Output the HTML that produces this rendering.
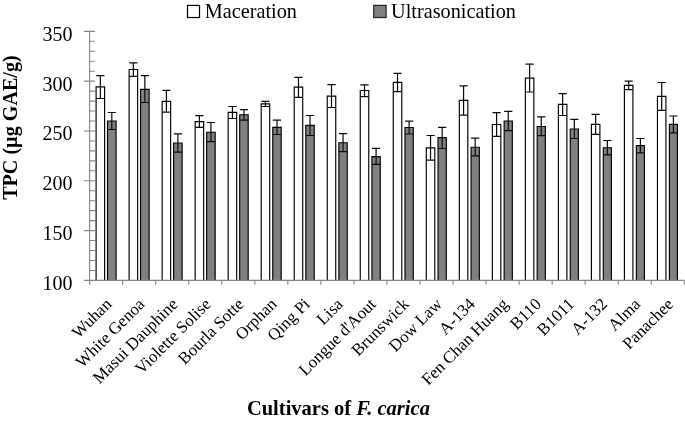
<!DOCTYPE html><html><head><meta charset="utf-8"><style>html,body{margin:0;padding:0;background:#fff}svg{display:block;filter:grayscale(1)}text{font-family:"Liberation Serif",serif;fill:#000}</style></head><body>
<svg width="685" height="421" viewBox="0 0 685 421">
<rect width="685" height="421" fill="#fff"/>
<path d="M96.10 280.4V86.90H104.60V280.4" fill="#fff" stroke="#000" stroke-width="1.15"/>
<path d="M100.35 75.70V98.50M96.25 75.70H104.45M96.25 98.50H104.45" stroke="#0a0a0a" stroke-width="1.2" fill="none"/>
<path d="M107.50 280.4V121.00H116.10V280.4" fill="#808080" stroke="#000" stroke-width="1.15"/>
<path d="M111.80 112.50V129.50M107.70 112.50H115.90M107.70 129.50H115.90" stroke="#0a0a0a" stroke-width="1.2" fill="none"/>
<path d="M129.12 280.4V69.50H137.62V280.4" fill="#fff" stroke="#000" stroke-width="1.15"/>
<path d="M133.37 62.80V76.30M129.27 62.80H137.47M129.27 76.30H137.47" stroke="#0a0a0a" stroke-width="1.2" fill="none"/>
<path d="M140.55 280.4V89.30H149.12V280.4" fill="#808080" stroke="#000" stroke-width="1.15"/>
<path d="M144.84 75.70V102.50M140.74 75.70H148.94M140.74 102.50H148.94" stroke="#0a0a0a" stroke-width="1.2" fill="none"/>
<path d="M162.14 280.4V101.40H170.64V280.4" fill="#fff" stroke="#000" stroke-width="1.15"/>
<path d="M166.39 90.40V112.20M162.29 90.40H170.49M162.29 112.20H170.49" stroke="#0a0a0a" stroke-width="1.2" fill="none"/>
<path d="M173.61 280.4V143.00H182.14V280.4" fill="#808080" stroke="#000" stroke-width="1.15"/>
<path d="M177.87 133.80V152.20M173.77 133.80H181.97M173.77 152.20H181.97" stroke="#0a0a0a" stroke-width="1.2" fill="none"/>
<path d="M195.16 280.4V121.60H203.66V280.4" fill="#fff" stroke="#000" stroke-width="1.15"/>
<path d="M199.41 115.70V127.30M195.31 115.70H203.51M195.31 127.30H203.51" stroke="#0a0a0a" stroke-width="1.2" fill="none"/>
<path d="M206.66 280.4V132.20H215.16V280.4" fill="#808080" stroke="#000" stroke-width="1.15"/>
<path d="M210.91 122.50V141.60M206.81 122.50H215.01M206.81 141.60H215.01" stroke="#0a0a0a" stroke-width="1.2" fill="none"/>
<path d="M228.18 280.4V112.40H236.68V280.4" fill="#fff" stroke="#000" stroke-width="1.15"/>
<path d="M232.43 106.50V118.50M228.33 106.50H236.53M228.33 118.50H236.53" stroke="#0a0a0a" stroke-width="1.2" fill="none"/>
<path d="M239.71 280.4V114.70H248.18V280.4" fill="#808080" stroke="#000" stroke-width="1.15"/>
<path d="M243.95 109.60V120.20M239.85 109.60H248.05M239.85 120.20H248.05" stroke="#0a0a0a" stroke-width="1.2" fill="none"/>
<path d="M261.20 280.4V103.80H269.70V280.4" fill="#fff" stroke="#000" stroke-width="1.15"/>
<path d="M265.45 101.40V106.50M261.35 101.40H269.55M261.35 106.50H269.55" stroke="#0a0a0a" stroke-width="1.2" fill="none"/>
<path d="M272.77 280.4V127.30H281.20V280.4" fill="#808080" stroke="#000" stroke-width="1.15"/>
<path d="M276.98 120.20V134.50M272.88 120.20H281.08M272.88 134.50H281.08" stroke="#0a0a0a" stroke-width="1.2" fill="none"/>
<path d="M294.22 280.4V87.10H302.72V280.4" fill="#fff" stroke="#000" stroke-width="1.15"/>
<path d="M298.47 77.30V97.30M294.37 77.30H302.57M294.37 97.30H302.57" stroke="#0a0a0a" stroke-width="1.2" fill="none"/>
<path d="M305.82 280.4V125.30H314.22V280.4" fill="#808080" stroke="#000" stroke-width="1.15"/>
<path d="M310.02 115.50V135.50M305.92 115.50H314.12M305.92 135.50H314.12" stroke="#0a0a0a" stroke-width="1.2" fill="none"/>
<path d="M327.24 280.4V96.10H335.74V280.4" fill="#fff" stroke="#000" stroke-width="1.15"/>
<path d="M331.49 84.60V107.50M327.39 84.60H335.59M327.39 107.50H335.59" stroke="#0a0a0a" stroke-width="1.2" fill="none"/>
<path d="M338.87 280.4V142.70H347.24V280.4" fill="#808080" stroke="#000" stroke-width="1.15"/>
<path d="M343.06 133.70V151.60M338.96 133.70H347.16M338.96 151.60H347.16" stroke="#0a0a0a" stroke-width="1.2" fill="none"/>
<path d="M360.26 280.4V90.50H368.76V280.4" fill="#fff" stroke="#000" stroke-width="1.15"/>
<path d="M364.51 84.80V96.70M360.41 84.80H368.61M360.41 96.70H368.61" stroke="#0a0a0a" stroke-width="1.2" fill="none"/>
<path d="M371.92 280.4V156.60H380.26V280.4" fill="#808080" stroke="#000" stroke-width="1.15"/>
<path d="M376.09 148.40V164.40M371.99 148.40H380.19M371.99 164.40H380.19" stroke="#0a0a0a" stroke-width="1.2" fill="none"/>
<path d="M393.28 280.4V82.40H401.78V280.4" fill="#fff" stroke="#000" stroke-width="1.15"/>
<path d="M397.53 73.40V91.60M393.43 73.40H401.63M393.43 91.60H401.63" stroke="#0a0a0a" stroke-width="1.2" fill="none"/>
<path d="M404.98 280.4V127.50H413.28V280.4" fill="#808080" stroke="#000" stroke-width="1.15"/>
<path d="M409.13 121.20V134.00M405.03 121.20H413.23M405.03 134.00H413.23" stroke="#0a0a0a" stroke-width="1.2" fill="none"/>
<path d="M426.30 280.4V147.80H434.80V280.4" fill="#fff" stroke="#000" stroke-width="1.15"/>
<path d="M430.55 135.50V160.10M426.45 135.50H434.65M426.45 160.10H434.65" stroke="#0a0a0a" stroke-width="1.2" fill="none"/>
<path d="M438.03 280.4V137.60H446.30V280.4" fill="#808080" stroke="#000" stroke-width="1.15"/>
<path d="M442.17 127.30V148.50M438.07 127.30H446.27M438.07 148.50H446.27" stroke="#0a0a0a" stroke-width="1.2" fill="none"/>
<path d="M459.32 280.4V100.40H467.82V280.4" fill="#fff" stroke="#000" stroke-width="1.15"/>
<path d="M463.57 85.80V115.10M459.47 85.80H467.67M459.47 115.10H467.67" stroke="#0a0a0a" stroke-width="1.2" fill="none"/>
<path d="M471.08 280.4V147.20H479.32V280.4" fill="#808080" stroke="#000" stroke-width="1.15"/>
<path d="M475.20 138.20V155.80M471.10 138.20H479.30M471.10 155.80H479.30" stroke="#0a0a0a" stroke-width="1.2" fill="none"/>
<path d="M492.34 280.4V124.50H500.84V280.4" fill="#fff" stroke="#000" stroke-width="1.15"/>
<path d="M496.59 112.60V136.30M492.49 112.60H500.69M492.49 136.30H500.69" stroke="#0a0a0a" stroke-width="1.2" fill="none"/>
<path d="M504.14 280.4V121.00H512.34V280.4" fill="#808080" stroke="#000" stroke-width="1.15"/>
<path d="M508.24 111.40V130.60M504.14 111.40H512.34M504.14 130.60H512.34" stroke="#0a0a0a" stroke-width="1.2" fill="none"/>
<path d="M525.36 280.4V78.10H533.86V280.4" fill="#fff" stroke="#000" stroke-width="1.15"/>
<path d="M529.61 64.20V92.00M525.51 64.20H533.71M525.51 92.00H533.71" stroke="#0a0a0a" stroke-width="1.2" fill="none"/>
<path d="M537.19 280.4V126.50H545.36V280.4" fill="#808080" stroke="#000" stroke-width="1.15"/>
<path d="M541.27 116.90V135.70M537.17 116.90H545.37M537.17 135.70H545.37" stroke="#0a0a0a" stroke-width="1.2" fill="none"/>
<path d="M558.38 280.4V104.40H566.88V280.4" fill="#fff" stroke="#000" stroke-width="1.15"/>
<path d="M562.63 93.70V115.50M558.53 93.70H566.73M558.53 115.50H566.73" stroke="#0a0a0a" stroke-width="1.2" fill="none"/>
<path d="M570.24 280.4V129.00H578.38V280.4" fill="#808080" stroke="#000" stroke-width="1.15"/>
<path d="M574.31 119.30V138.50M570.21 119.30H578.41M570.21 138.50H578.41" stroke="#0a0a0a" stroke-width="1.2" fill="none"/>
<path d="M591.40 280.4V124.40H599.90V280.4" fill="#fff" stroke="#000" stroke-width="1.15"/>
<path d="M595.65 114.40V134.40M591.55 114.40H599.75M591.55 134.40H599.75" stroke="#0a0a0a" stroke-width="1.2" fill="none"/>
<path d="M603.30 280.4V147.70H611.40V280.4" fill="#808080" stroke="#000" stroke-width="1.15"/>
<path d="M607.35 140.50V154.90M603.25 140.50H611.45M603.25 154.90H611.45" stroke="#0a0a0a" stroke-width="1.2" fill="none"/>
<path d="M624.42 280.4V85.30H632.92V280.4" fill="#fff" stroke="#000" stroke-width="1.15"/>
<path d="M628.67 81.20V89.60M624.57 81.20H632.77M624.57 89.60H632.77" stroke="#0a0a0a" stroke-width="1.2" fill="none"/>
<path d="M636.35 280.4V145.60H644.42V280.4" fill="#808080" stroke="#000" stroke-width="1.15"/>
<path d="M640.38 138.50V152.80M636.28 138.50H644.48M636.28 152.80H644.48" stroke="#0a0a0a" stroke-width="1.2" fill="none"/>
<path d="M657.44 280.4V96.40H665.94V280.4" fill="#fff" stroke="#000" stroke-width="1.15"/>
<path d="M661.69 82.50V110.30M657.59 82.50H665.79M657.59 110.30H665.79" stroke="#0a0a0a" stroke-width="1.2" fill="none"/>
<path d="M669.40 280.4V124.40H677.44V280.4" fill="#808080" stroke="#000" stroke-width="1.15"/>
<path d="M673.42 116.00V132.90M669.32 116.00H677.52M669.32 132.90H677.52" stroke="#0a0a0a" stroke-width="1.2" fill="none"/>
<path d="M89.6 31.35V284.79999999999995M83.89999999999999 280.4H684.32M83.90 31.35H95.10M89.60 41.31H95.10M89.60 51.27H95.10M89.60 61.24H95.10M89.60 71.20H95.10M83.90 81.16H95.10M89.60 91.12H95.10M89.60 101.08H95.10M89.60 111.05H95.10M89.60 121.01H95.10M83.90 130.97H95.10M89.60 140.93H95.10M89.60 150.89H95.10M89.60 160.86H95.10M89.60 170.82H95.10M83.90 180.78H95.10M89.60 190.74H95.10M89.60 200.70H95.10M89.60 210.67H95.10M89.60 220.63H95.10M83.90 230.59H95.10M89.60 240.55H95.10M89.60 250.51H95.10M89.60 260.48H95.10M89.60 270.44H95.10M122.64 280.4V284.79999999999995M155.68 280.4V284.79999999999995M188.72 280.4V284.79999999999995M221.76 280.4V284.79999999999995M254.80 280.4V284.79999999999995M287.84 280.4V284.79999999999995M320.88 280.4V284.79999999999995M353.92 280.4V284.79999999999995M386.96 280.4V284.79999999999995M420.00 280.4V284.79999999999995M453.04 280.4V284.79999999999995M486.08 280.4V284.79999999999995M519.12 280.4V284.79999999999995M552.16 280.4V284.79999999999995M585.20 280.4V284.79999999999995M618.24 280.4V284.79999999999995M651.28 280.4V284.79999999999995M684.32 280.4V284.79999999999995" stroke="#868686" stroke-width="1.1" fill="none"/>
<text x="72.6" y="40.85" font-size="20" text-anchor="end">350</text>
<text x="72.6" y="90.66" font-size="20" text-anchor="end">300</text>
<text x="72.6" y="140.47" font-size="20" text-anchor="end">250</text>
<text x="72.6" y="190.28" font-size="20" text-anchor="end">200</text>
<text x="72.6" y="240.09" font-size="20" text-anchor="end">150</text>
<text x="72.6" y="289.90" font-size="20" text-anchor="end">100</text>
<rect x="187.5" y="5.4" width="12" height="12.1" fill="#fff" stroke="#000" stroke-width="1.2"/>
<text x="204.8" y="17.9" font-size="20.25">Maceration</text>
<rect x="373.7" y="5.4" width="12.4" height="12.1" fill="#808080" stroke="#262626" stroke-width="1.25"/>
<text x="391.1" y="17.9" font-size="20.25">Ultrasonication</text>
<text transform="translate(16.8,127.6) rotate(-90)" font-size="20.12" font-weight="bold" text-anchor="middle">TPC (µg GAE/g)</text>
<text x="338.4" y="414.5" font-size="20.5" font-weight="bold" text-anchor="middle">Cultivars of <tspan font-style="italic">F. carica</tspan></text>
<text transform="translate(112.62,305.10) rotate(-45)" font-size="16.9" text-anchor="end">Wuhan</text>
<text transform="translate(145.66,305.10) rotate(-45)" font-size="16.9" text-anchor="end">White Genoa</text>
<text transform="translate(178.70,305.10) rotate(-45)" font-size="16.9" text-anchor="end">Masui Dauphine</text>
<text transform="translate(211.74,305.10) rotate(-45)" font-size="16.9" text-anchor="end">Violette Solise</text>
<text transform="translate(244.78,305.10) rotate(-45)" font-size="16.9" text-anchor="end">Bourla Sotte</text>
<text transform="translate(277.82,305.10) rotate(-45)" font-size="16.9" text-anchor="end">Orphan</text>
<text transform="translate(310.86,305.10) rotate(-45)" font-size="16.9" text-anchor="end">Qing Pi</text>
<text transform="translate(343.90,305.10) rotate(-45)" font-size="16.9" text-anchor="end">Lisa</text>
<text transform="translate(376.94,305.10) rotate(-45)" font-size="16.9" text-anchor="end">Longue d'Aout</text>
<text transform="translate(409.98,305.10) rotate(-45)" font-size="16.9" text-anchor="end">Brunswick</text>
<text transform="translate(443.02,305.10) rotate(-45)" font-size="16.9" text-anchor="end">Dow Law</text>
<text transform="translate(476.06,305.10) rotate(-45)" font-size="16.9" text-anchor="end">A-134</text>
<text transform="translate(509.10,305.10) rotate(-45)" font-size="16.9" text-anchor="end">Fen Chan Huang</text>
<text transform="translate(542.14,305.10) rotate(-45)" font-size="16.9" text-anchor="end">B110</text>
<text transform="translate(575.18,305.10) rotate(-45)" font-size="16.9" text-anchor="end">B1011</text>
<text transform="translate(608.22,305.10) rotate(-45)" font-size="16.9" text-anchor="end">A-132</text>
<text transform="translate(641.26,305.10) rotate(-45)" font-size="16.9" text-anchor="end">Alma</text>
<text transform="translate(674.30,305.10) rotate(-45)" font-size="16.9" text-anchor="end">Panachee</text>
</svg></body></html>
